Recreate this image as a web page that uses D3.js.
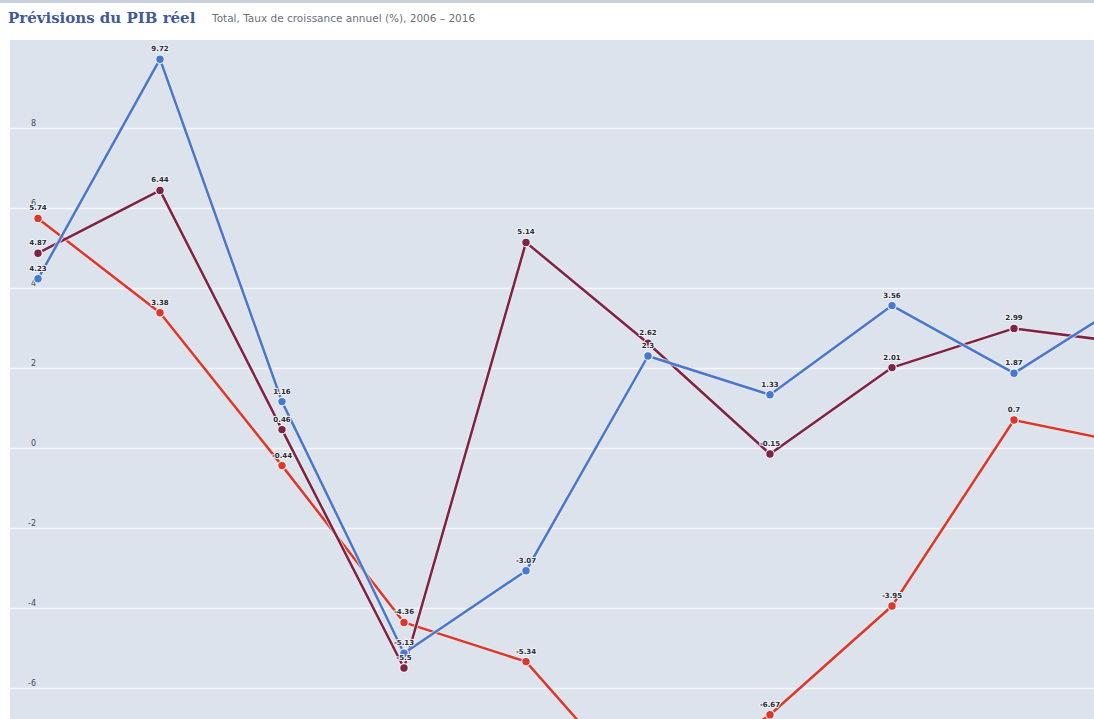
<!DOCTYPE html>
<html>
<head>
<meta charset="utf-8">
<script src="https://cdn.jsdelivr.net/npm/d3@7"></script>
<style>
  html, body { margin: 0; padding: 0; background: #ffffff; }
  svg { display: block; }
</style>
</head>
<body>
<svg id="chart" width="1094" height="719"></svg>
<script>
// Real GDP growth forecasts, annual %, 2006–2016
const years = [2006, 2007, 2008, 2009, 2010, 2011, 2012, 2013, 2014, 2015];
const seriesBlue   = [4.23, 9.72, 1.16, -5.13, -3.07, 2.3, 1.33, 3.56, 1.87, 3.8];
const seriesPurple = [4.87, 6.44, 0.46, -5.5, 5.14, 2.62, -0.15, 2.01, 2.99, 2.6];
const seriesRed    = [5.74, 3.38, -0.44, -4.36, -5.34, -8.8, -6.67, -3.95, 0.7, 0.07];
const yTicks = [8, 6, 4, 2, 0, -2, -4, -6];

const titleText = "Prévisions du PIB réel";
const subtitleText = "Total, Taux de croissance annuel (%), 2006 – 2016";

const series = [
  { name: "red",    values: seriesRed,    color: "#d8392b" },
  { name: "purple", values: seriesPurple, color: "#7a2446" },
  { name: "blue",   values: seriesBlue,   color: "#4479cf" }
];

const W = 1094, H = 719;
const plot = { left: 10, top: 40, right: W, bottom: H };

const svg = d3.select("#chart");

// header rule and titles
svg.append("rect").attr("x", 0).attr("y", 0).attr("width", W).attr("height", 3).attr("fill", "#c9cfdc");
svg.append("text")
  .attr("x", 8).attr("y", 23)
  .attr("font-family", "'DejaVu Serif', serif")
  .attr("font-weight", "bold")
  .attr("font-size", 15)
  .attr("fill", "#3f5a96")
  .text(titleText);
svg.append("text")
  .attr("x", 212).attr("y", 22)
  .attr("font-family", "'DejaVu Sans', sans-serif")
  .attr("font-size", 10.5)
  .attr("fill", "#6b6f78")
  .text(subtitleText);

// plot background
svg.append("rect")
  .attr("x", plot.left).attr("y", plot.top)
  .attr("width", plot.right - plot.left).attr("height", plot.bottom - plot.top)
  .attr("fill", "#dde3ed");

const x = d3.scaleLinear().domain([2006, 2016]).range([38, 1258]);
const y = d3.scaleLinear().domain([0, 8]).range([448, 128]);

// horizontal grid
const grid = svg.append("g").attr("class", "grid")
  .attr("transform", `translate(${plot.left},0)`)
  .call(d3.axisLeft(y).tickValues(yTicks).tickSize(-(plot.right - plot.left)).tickFormat(""));
grid.select(".domain").remove();
grid.selectAll(".tick line").attr("stroke", "#f6f8fb").attr("stroke-width", 1.6);

// y-axis labels
const yAxis = svg.append("g").attr("class", "y-axis")
  .attr("transform", "translate(36,-5)")
  .call(d3.axisLeft(y).tickValues(yTicks).tickSize(0).tickPadding(0).tickFormat(d => String(d)));
yAxis.select(".domain").remove();
yAxis.selectAll("text")
  .attr("font-family", "'DejaVu Sans', sans-serif")
  .attr("font-size", 8)
  .attr("fill", "#444a55");

svg.append("clipPath").attr("id", "plot-clip")
  .append("rect").attr("x", plot.left).attr("y", plot.top)
  .attr("width", plot.right - plot.left).attr("height", plot.bottom - plot.top);

const layer = svg.append("g").attr("clip-path", "url(#plot-clip)");

const line = d3.line()
  .x((d, i) => x(years[i]))
  .y(d => y(d));

series.forEach(s => {
  const g = layer.append("g").attr("class", "series-" + s.name);
  g.append("path")
    .datum(s.values)
    .attr("fill", "none")
    .attr("stroke", "#f3e6ea")
    .attr("stroke-opacity", 0.7)
    .attr("stroke-width", 4.5)
    .attr("stroke-linejoin", "round")
    .attr("d", line);
  g.append("path")
    .datum(s.values)
    .attr("fill", "none")
    .attr("stroke", s.color)
    .attr("stroke-width", 2.5)
    .attr("stroke-linejoin", "round")
    .attr("d", line);
  g.selectAll("circle")
    .data(s.values)
    .join("circle")
    .attr("cx", (d, i) => x(years[i]))
    .attr("cy", d => y(d))
    .attr("r", 4.3)
    .attr("fill", s.color)
    .attr("stroke", "#f4eef2")
    .attr("stroke-width", 1.2);
});

// value labels, only for points that fall inside the visible plot
const inView = (d, i) => {
  const px = x(years[i]), py = y(d) - 8;
  return px > plot.left + 8 && px < plot.right - 8 && py > plot.top + 6 && py < plot.bottom - 2;
};
series.forEach(s => {
  const pts = s.values.map((v, i) => ({ v, i })).filter(p => inView(p.v, p.i));
  layer.append("g").selectAll("text")
    .data(pts)
    .join("text")
    .attr("x", p => x(years[p.i]))
    .attr("y", p => y(p.v) - 8)
    .attr("text-anchor", "middle")
    .attr("font-family", "'DejaVu Sans', sans-serif")
    .attr("font-weight", "bold")
    .attr("font-size", 7)
    .attr("fill", "#2a2a33")
    .attr("stroke", "#eef1f6")
    .attr("stroke-width", 2)
    .attr("paint-order", "stroke")
    .text(p => String(p.v));
});
</script>
</body>
</html>
